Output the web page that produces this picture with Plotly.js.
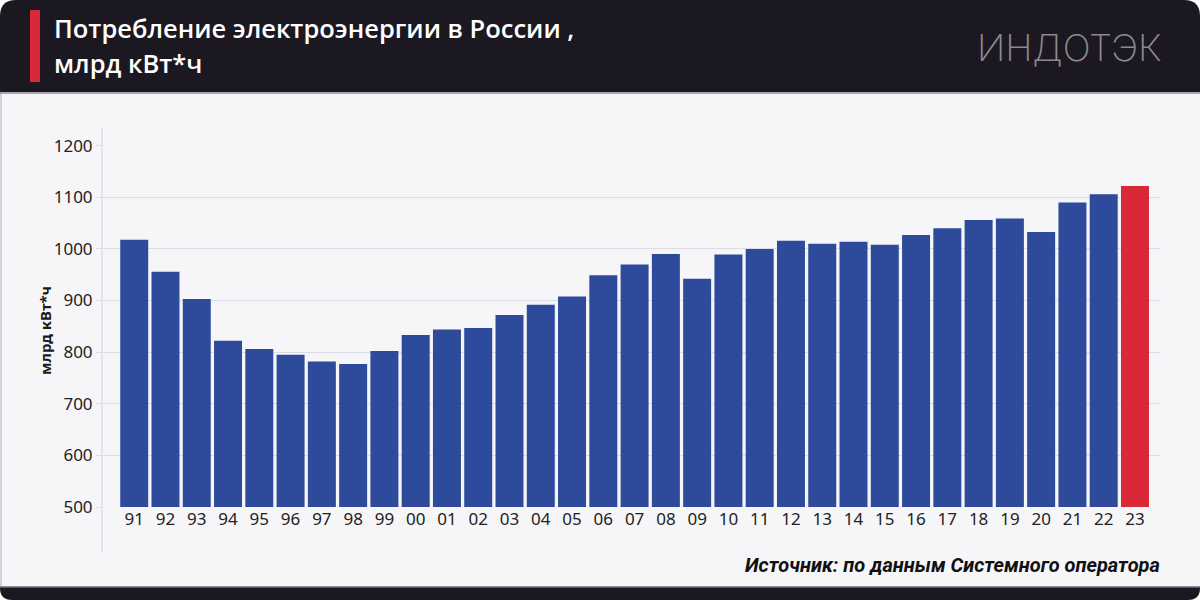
<!DOCTYPE html>
<html>
<head>
<meta charset="utf-8">
<script src="https://cdn.plot.ly/plotly-3.0.1.min.js"></script>
<style>html,body{margin:0;padding:0;background:#fff;}#chart{width:1200px;height:600px;}</style>
</head>
<body>
<div id="chart"></div>
<script>
// Data
const years = ["91","92","93","94","95","96","97","98","99","00","01","02","03","04","05","06","07","08","09","10","11","12","13","14","15","16","17","18","19","20","21","22","23"];
const consumption = [1018,956,903,822,806,795,782,777,802,833,844,847,872,892,908,949,970,990,942,989,1000,1016,1010,1014,1008,1027,1040,1056,1059,1033,1090,1106,1122];
const highlightYear = "23";
const yTicks = [500,600,700,800,900,1000,1100,1200];

const titleLine1 = "Потребление электроэнергии в России ,";
const titleLine2 = "млрд кВт*ч";
const yTitle = "млрд кВт*ч";
const sourceText = "Источник: по данным Системного оператора";
const logoText = "ИНДОТЭК";

const W = 1200, H = 600;
const px = x => x / W;
const py = y => 1 - y / H;

const BLUE = "#2d4a9b", RED = "#d92838", DARK = "#1c1822";
const colors = years.map(y => y === highlightYear ? RED : BLUE);

const trace = {
  type: "bar",
  x: years,
  y: consumption,
  marker: {color: colors},
  hoverinfo: "x+y"
};

function roundedTop(x0, y0, x1, y1, r) {
  return `M ${px(x0)},${py(y1)} L ${px(x0)},${py(y0 + r)} Q ${px(x0)},${py(y0)} ${px(x0 + r)},${py(y0)} L ${px(x1 - r)},${py(y0)} Q ${px(x1)},${py(y0)} ${px(x1)},${py(y0 + r)} L ${px(x1)},${py(y1)} Z`;
}
function roundedBottom(x0, y0, x1, y1, r) {
  return `M ${px(x0)},${py(y0)} L ${px(x1)},${py(y0)} L ${px(x1)},${py(y1 - r)} Q ${px(x1)},${py(y1)} ${px(x1 - r)},${py(y1)} L ${px(x0 + r)},${py(y1)} Q ${px(x0)},${py(y1)} ${px(x0)},${py(y1 - r)} Z`;
}

const shapes = [
  {type: "rect", xref: "paper", yref: "paper", x0: px(0), x1: px(1200), y0: py(590), y1: py(92), fillcolor: "#f6f6f9", line: {width: 0}, layer: "below"},
  {type: "line", xref: "paper", yref: "paper", x0: px(1), x1: px(1), y0: py(588), y1: py(93), line: {color: "#d2d2da", width: 2}, layer: "below"},
  {type: "path", xref: "paper", yref: "paper", path: roundedTop(0, 0, 1200, 92, 16), fillcolor: DARK, line: {width: 0}, layer: "below"},
  {type: "line", xref: "paper", yref: "paper", x0: 0, x1: 1, y0: py(93), y1: py(93), line: {color: "#8e8c94", width: 1.5}, layer: "below"},
  {type: "rect", xref: "paper", yref: "paper", x0: px(30), x1: px(40), y0: py(82), y1: py(10), fillcolor: RED, line: {width: 0}},
  {type: "path", xref: "paper", yref: "paper", path: roundedBottom(0, 587, 1200, 600, 12), fillcolor: DARK, line: {width: 0}, layer: "below"},
  {type: "line", xref: "paper", yref: "paper", x0: 0, x1: 1, y0: py(587), y1: py(587), line: {color: "#6e6c74", width: 1.5}, layer: "below"},
  {type: "line", xref: "paper", yref: "paper", x0: px(102), x1: px(102), y0: py(552), y1: py(128), line: {color: "#dcdce6", width: 1.5}, layer: "below"}
];

const annotations = [
  {xref: "paper", yref: "paper", x: px(52), y: py(28), xanchor: "left", yanchor: "middle", align: "left",
   text: titleLine1, showarrow: false, font: {family: "Open Sans", size: 25.5, color: "#ffffff", weight: 600}},
  {xref: "paper", yref: "paper", x: px(52), y: py(63), xanchor: "left", yanchor: "middle", align: "left",
   text: titleLine2, showarrow: false, font: {family: "Open Sans", size: 25.5, color: "#ffffff", weight: 600}},
  {xref: "paper", yref: "paper", x: px(1164), y: py(47), xanchor: "right", yanchor: "middle",
   text: logoText, showarrow: false, font: {family: "Inter", size: 37, color: "#8c8a90", weight: 200}},
  {xref: "paper", yref: "paper", x: px(45), y: py(331), xanchor: "center", yanchor: "middle", textangle: -90,
   text: "<b>" + yTitle + "</b>", showarrow: false, font: {family: "Noto Sans", size: 15, color: "#1a1a1a"}},
  {xref: "paper", yref: "paper", x: px(1162), y: py(565), xanchor: "right", yanchor: "middle",
   text: "<b><i>" + sourceText + "</i></b>", showarrow: false, font: {family: "Roboto", size: 20, color: "#111111"}}
];

const layout = {
  width: W, height: H,
  margin: {l: 0, r: 0, t: 0, b: 0, pad: 0},
  paper_bgcolor: "rgba(0,0,0,0)",
  plot_bgcolor: "rgba(0,0,0,0)",
  showlegend: false,
  bargap: 0.105,
  xaxis: {
    type: "category",
    domain: [px(102), px(1160)],
    range: [-1.03, 32.8],
    showgrid: false, zeroline: false, showline: false,
    ticks: "",
    tickfont: {family: "Noto Sans", size: 17, color: "#222"},
    fixedrange: true
  },
  yaxis: {
    domain: [py(507), py(145.7)],
    range: [500, 1200],
    tickvals: yTicks,
    ticktext: yTicks.map(String),
    showgrid: true, gridcolor: "#dcdce6", gridwidth: 1,
    zeroline: false, showline: false,
    ticks: "outside", ticklen: 5, tickcolor: "#dcdce6",
    tickfont: {family: "Noto Sans", size: 17, color: "#222"},
    fixedrange: true
  },
  shapes: shapes,
  annotations: annotations
};

Plotly.newPlot("chart", [trace], layout, {displayModeBar: false, staticPlot: true});
</script>
</body>
</html>
